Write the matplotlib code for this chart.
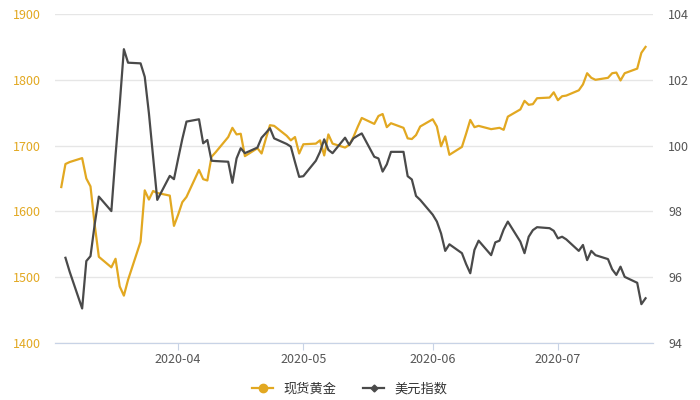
import matplotlib.pyplot as plt
import matplotlib.dates as mdates
from matplotlib.lines import Line2D
import pandas as pd

plt.rcParams["font.family"] = ["Noto Sans CJK SC", "DejaVu Sans"]

gold_dates = [
    "2020-03-04", "2020-03-05", "2020-03-06", "2020-03-09", "2020-03-10", "2020-03-11",
    "2020-03-12", "2020-03-13", "2020-03-16", "2020-03-17", "2020-03-18", "2020-03-19",
    "2020-03-20", "2020-03-23", "2020-03-24", "2020-03-25", "2020-03-26", "2020-03-27",
    "2020-03-30", "2020-03-31", "2020-04-01", "2020-04-02", "2020-04-03", "2020-04-06",
    "2020-04-07", "2020-04-08", "2020-04-09", "2020-04-10", "2020-04-13", "2020-04-14",
    "2020-04-15", "2020-04-16", "2020-04-17", "2020-04-20", "2020-04-21", "2020-04-22",
    "2020-04-23", "2020-04-24", "2020-04-27", "2020-04-28", "2020-04-29", "2020-04-30",
    "2020-05-01", "2020-05-04", "2020-05-05", "2020-05-06", "2020-05-07", "2020-05-08",
    "2020-05-11", "2020-05-12", "2020-05-13", "2020-05-14", "2020-05-15", "2020-05-18",
    "2020-05-19", "2020-05-20", "2020-05-21", "2020-05-22", "2020-05-25", "2020-05-26",
    "2020-05-27", "2020-05-28", "2020-05-29", "2020-06-01", "2020-06-02", "2020-06-03",
    "2020-06-04", "2020-06-05", "2020-06-08", "2020-06-09", "2020-06-10", "2020-06-11",
    "2020-06-12", "2020-06-15", "2020-06-16", "2020-06-17", "2020-06-18", "2020-06-19",
    "2020-06-22", "2020-06-23", "2020-06-24", "2020-06-25", "2020-06-26", "2020-06-29",
    "2020-06-30", "2020-07-01", "2020-07-02", "2020-07-03", "2020-07-06", "2020-07-07",
    "2020-07-08", "2020-07-09", "2020-07-10", "2020-07-13", "2020-07-14", "2020-07-15",
    "2020-07-16", "2020-07-17", "2020-07-20", "2020-07-21", "2020-07-22",
]
gold = [
    1637, 1672, 1675, 1681, 1650, 1638,
    1580, 1531, 1515, 1528, 1486, 1472,
    1496, 1554, 1632, 1618, 1631, 1628,
    1624, 1578, 1595, 1614, 1622, 1663,
    1649, 1647, 1683, 1690, 1713, 1727,
    1717, 1718, 1684, 1696, 1688, 1710,
    1731, 1730, 1715, 1708, 1713, 1688,
    1702, 1703, 1708, 1685, 1717, 1703,
    1697, 1701, 1713, 1728, 1742, 1733,
    1745, 1748, 1728, 1734, 1727, 1711,
    1710, 1716, 1729, 1740, 1729, 1699,
    1714, 1686, 1698, 1718, 1739, 1728,
    1730, 1725, 1726, 1727, 1724, 1744,
    1755, 1768, 1762, 1763, 1772, 1773,
    1781, 1769, 1775, 1776, 1784, 1793,
    1810, 1803, 1800, 1803, 1810, 1811,
    1799, 1810, 1817, 1841, 1850,
]

usd_dates = gold_dates[1:]
usd = [
    96.59, 96.17, 95.05, 96.49, 96.64,
    97.60, 98.45, 98.01, 99.70, 101.25, 102.93,
    102.52, 102.50, 102.09, 100.98, 99.66, 98.35,
    99.08, 98.98, 99.60, 100.20, 100.73, 100.80,
    100.07, 100.17, 99.54, 99.53, 99.51, 98.87,
    99.61, 99.92, 99.77, 99.94, 100.24, 100.38,
    100.53, 100.22, 100.05, 99.97, 99.50, 99.05,
    99.07, 99.54, 99.81, 100.19, 99.87, 99.77,
    100.24, 100.02, 100.22, 100.30, 100.37, 99.66,
    99.61, 99.21, 99.43, 99.81, 99.81, 99.07,
    98.97, 98.47, 98.35, 97.90, 97.69, 97.33,
    96.80, 97.00, 96.73, 96.40, 96.12, 96.83,
    97.11, 96.67, 97.06, 97.11, 97.45, 97.69,
    97.08, 96.73, 97.23, 97.43, 97.52, 97.49,
    97.41, 97.18, 97.23, 97.15, 96.80, 96.98,
    96.52, 96.80, 96.67, 96.55, 96.24, 96.07,
    96.32, 96.01, 95.83, 95.18, 95.36,
]

gold_color = "#e2a821"
usd_color = "#4a4a4a"
grid_color = "#e6e6e6"
axis_color = "#c8d3e6"

fig = plt.figure(figsize=(7, 4), dpi=100)
ax = fig.add_axes([0.0786, 0.1425, 0.8543, 0.8225])
ax2 = ax.twinx()

ax.plot(pd.to_datetime(gold_dates), gold, color=gold_color, lw=1.6, zorder=3)
ax2.plot(pd.to_datetime(usd_dates), usd, color=usd_color, lw=1.6, zorder=3)

ax.set_ylim(1400, 1900)
ax.set_yticks(range(1400, 1901, 100))
ax2.set_ylim(94, 104)
ax2.set_yticks(range(94, 105, 2))
ax.set_xlim(pd.Timestamp("2020-03-02 12:00"), pd.Timestamp("2020-07-23 19:00"))

ax.xaxis.set_major_locator(mdates.MonthLocator())
ax.xaxis.set_major_formatter(mdates.DateFormatter("%Y-%m"))

ax.grid(axis="y", color=grid_color, lw=1)
ax.set_axisbelow(True)
for a in (ax, ax2):
    for s in ("top", "left", "right"):
        a.spines[s].set_visible(False)
    a.spines["bottom"].set_color(axis_color)
ax.tick_params(axis="y", length=0, pad=10, labelsize=9, labelcolor=gold_color)
ax2.tick_params(axis="y", length=0, pad=11, labelsize=9, labelcolor="#555555")
ax.tick_params(axis="x", length=5, color=axis_color, labelsize=9, labelcolor="#555555", pad=2)

handles = [
    Line2D([], [], color=gold_color, lw=1.6, marker="o", ms=6),
    Line2D([], [], color=usd_color, lw=1.6, marker="D", ms=3.5),
]
fig.legend(handles, ["现货黄金", "美元指数"], loc="center", bbox_to_anchor=(0.5, 0.028),
           ncol=2, frameon=False, fontsize=9.5, handlelength=1.6, columnspacing=2.0,
           labelcolor="#333333")

fig.savefig("out.png", dpi=100)
